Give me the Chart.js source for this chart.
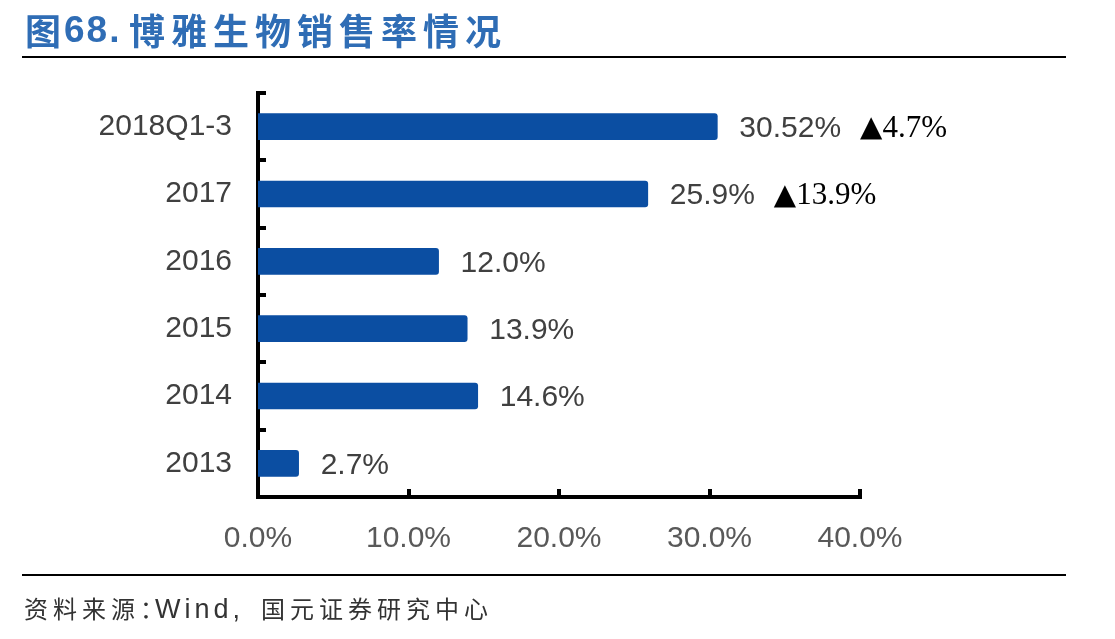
<!DOCTYPE html>
<html>
<head>
<meta charset="utf-8">
<script src="https://cdn.jsdelivr.net/npm/chart.js@4/dist/chart.umd.min.js"></script>
<style>
  html,body{margin:0;padding:0;background:#fff;}
  #wrap{position:relative;width:1115px;height:639px;overflow:hidden;}
  #c{position:absolute;left:0;top:0;}
  .t{position:absolute;top:3px;font-family:"Noto Sans CJK SC",sans-serif;font-weight:700;font-size:36px;color:#2F6DB5;white-space:nowrap;}
  .t.num{font-family:"Liberation Sans",Arial,sans-serif;font-size:37px;letter-spacing:2px;top:9px;}
  .rule{position:absolute;left:22px;width:1044px;height:2px;background:#000;}
  .s{position:absolute;top:590px;font-family:"Noto Sans CJK SC",sans-serif;font-size:24px;color:#333;letter-spacing:5px;white-space:nowrap;}
  .s.lat{font-family:"Liberation Sans",Arial,sans-serif;font-size:27px;letter-spacing:4px;top:594px;}
</style>
</head>
<body>
<div id="wrap">
  <canvas id="c" width="1115" height="639"></canvas>
  <div class="t" style="left:25px">图</div>
  <div class="t num" style="left:64px">68.</div>
  <div class="t" style="left:129px;letter-spacing:6px">博雅生物销售率情况</div>
  <div class="rule" style="top:56px"></div>
  <div class="rule" style="top:574px"></div>
  <div class="s" style="left:24px">资料来源：</div>
  <div class="s lat" style="left:155px">Wind,</div>
  <div class="s" style="left:261px">国元证券研究中心</div>
</div>
<script>
const categories = ["2018Q1-3", "2017", "2016", "2015", "2014", "2013"];
const salesRate = [30.52, 25.9, 12.0, 13.9, 14.6, 2.7];
const valueLabels = ["30.52%", "25.9%", "12.0%", "13.9%", "14.6%", "2.7%"];
const growthLabels = ["▲4.7%", "▲13.9%", "", "", "", ""];
const xTicks = [0, 10, 20, 30, 40];

const labelPlugin = {
  id: 'labels',
  afterDatasetsDraw(chart) {
    const ctx = chart.ctx;
    const meta = chart.getDatasetMeta(0);
    ctx.save();
    meta.data.forEach((bar, i) => {
      ctx.textBaseline = 'middle';
      ctx.textAlign = 'left';
      ctx.font = '30px "Liberation Sans", Arial, sans-serif';
      ctx.fillStyle = '#404040';
      const x = bar.x + 22;
      ctx.fillText(valueLabels[i], x, bar.y + 2);
      const w = ctx.measureText(valueLabels[i]).width;
      const g = growthLabels[i];
      if (g) {
        let gx = x + w + 20;
        ctx.fillStyle = '#000';
        ctx.font = '29px "DejaVu Sans", sans-serif';
        const tri = g.charAt(0);
        ctx.fillText(tri, gx - 1, bar.y + 2);
        gx += ctx.measureText(tri).width - 1;
        ctx.font = '31px "Liberation Serif", "Times New Roman", serif';
        ctx.fillText(g.slice(1), gx, bar.y + 2);
      }
    });
    ctx.restore();
  },
  afterDraw(chart) {
    const ctx = chart.ctx;
    const xs = chart.scales.x, ys = chart.scales.y;
    const area = chart.chartArea;
    ctx.save();
    ctx.fillStyle = '#000';
    const step = ys.getPixelForValue(1) - ys.getPixelForValue(0);
    for (let i = 0; i < categories.length; i++) {
      const yb = ys.getPixelForValue(i) - step / 2;
      ctx.fillRect(area.left - 2, Math.round(yb) - 2, 10, 4);
    }
    xTicks.forEach(v => {
      if (v === 0) return;
      const xp = xs.getPixelForValue(v);
      ctx.fillRect(Math.round(xp) - 2, area.bottom - 8, 4, 10);
    });
    ctx.restore();
  }
};

new Chart(document.getElementById('c'), {
  type: 'bar',
  data: {
    labels: categories,
    datasets: [{
      data: salesRate,
      backgroundColor: '#0B4EA2',
      borderRadius: 3,
      borderSkipped: 'start',
      barThickness: 26
    }]
  },
  options: {
    indexAxis: 'y',
    responsive: false,
    animation: false,
    devicePixelRatio: 1,
    layout: { padding: { top: 93, right: 255, left: 0, bottom: 0 } },
    plugins: { legend: { display: false }, tooltip: { enabled: false } },
    scales: {
      x: {
        min: 0, max: 40,
        afterBuildTicks(scale) { scale.ticks = xTicks.map(v => ({ value: v })); },
        afterFit(scale) { scale.height = 142; },
        grid: { display: false, drawTicks: false },
        border: { display: true, color: '#000', width: 4 },
        ticks: {
          padding: 24,
          color: '#595959',
          font: { family: '"Liberation Sans", Arial, sans-serif', size: 30 },
          callback: v => v.toFixed(1) + '%',
          maxRotation: 0
        }
      },
      y: {
        afterFit(scale) { scale.width = 258; },
        grid: { display: false, drawTicks: false },
        border: { display: true, color: '#000', width: 4 },
        ticks: {
          padding: 26,
          color: '#404040',
          font: { family: '"Liberation Sans", Arial, sans-serif', size: 30 }
        }
      }
    }
  },
  plugins: [labelPlugin]
});
</script>
</body>
</html>
